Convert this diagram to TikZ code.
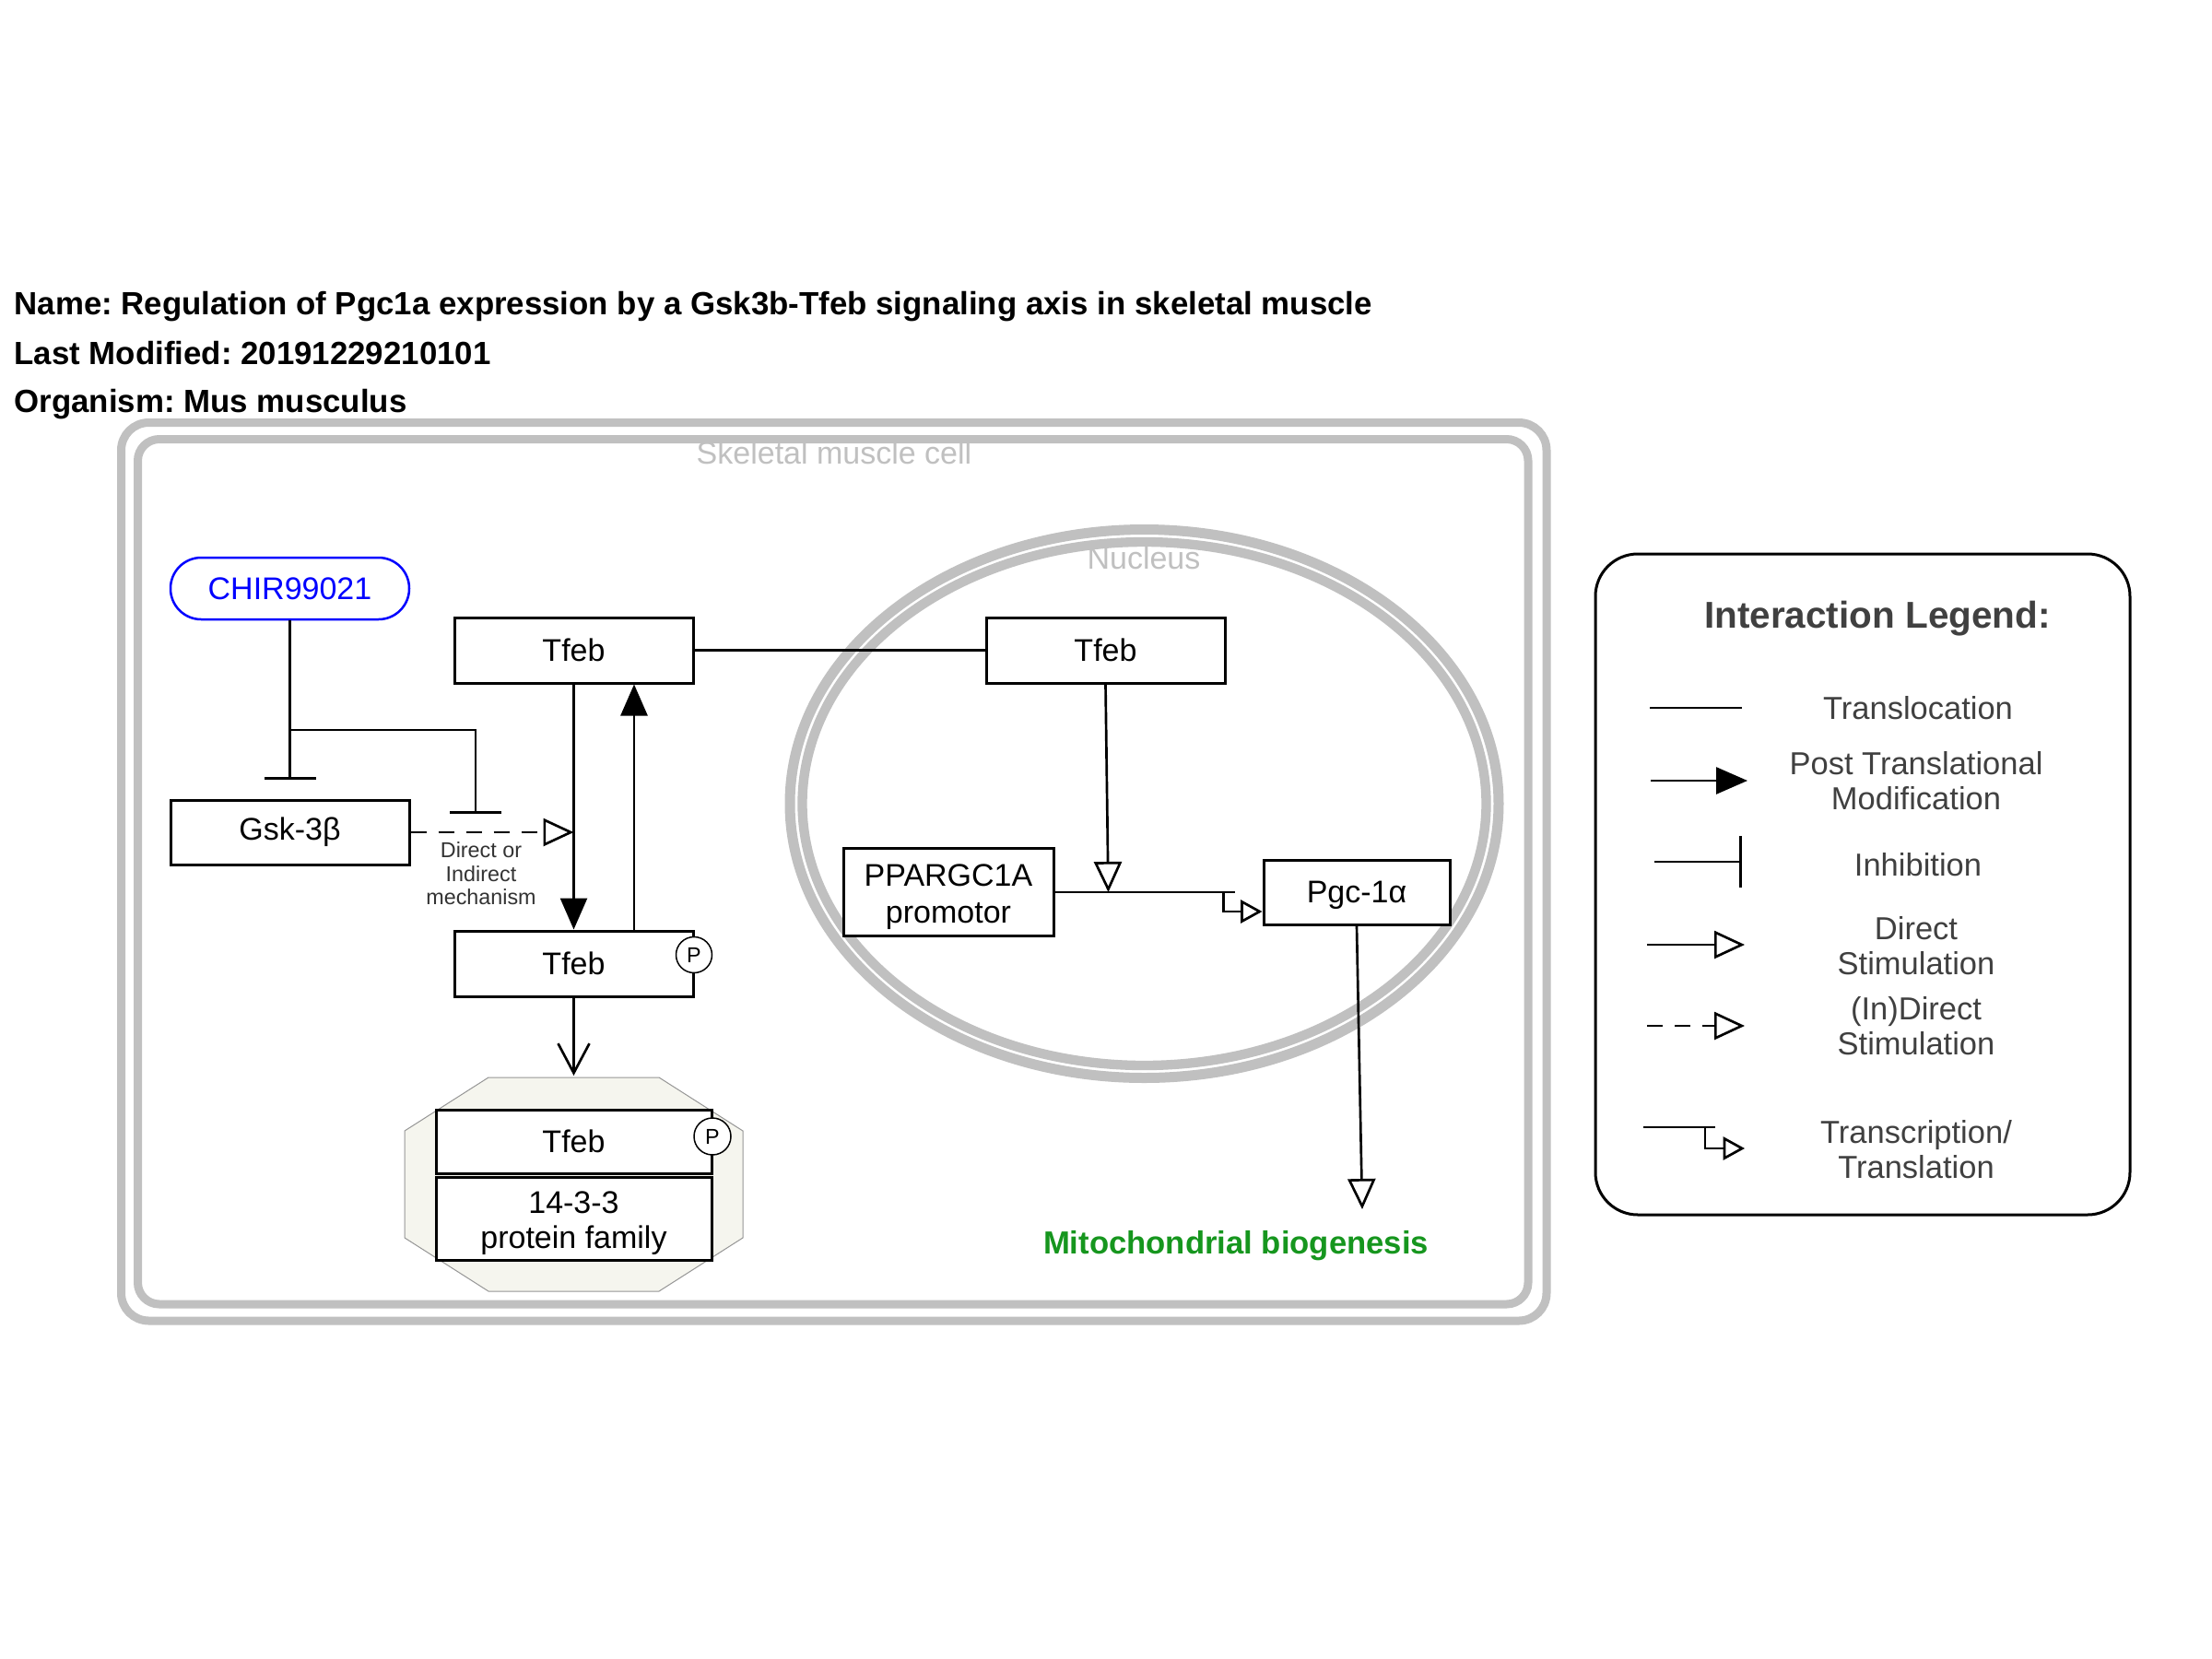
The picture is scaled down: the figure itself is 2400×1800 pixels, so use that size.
\documentclass[tikz,border=0pt]{standalone}
\usepackage{fontspec}
\setmainfont{Liberation Sans}
\usetikzlibrary{arrows.meta,calc}
\definecolor{cellgray}{RGB}{192,192,192}
\definecolor{chirblue}{RGB}{0,0,255}
\definecolor{mitogreen}{RGB}{22,150,30}
\definecolor{leggray}{RGB}{64,64,64}
\definecolor{mechgray}{RGB}{51,51,51}
\definecolor{cplxfill}{RGB}{245,245,238}
\definecolor{cplxborder}{RGB}{150,150,150}
\newcommand\fsz[2]{\fontsize{#1}{#2}\selectfont}
\frenchspacing
\begin{document}
\begin{tikzpicture}[x=0.3pt,y=-0.3pt,
  gene/.style={draw=black, line width=0.9pt, fill=white, minimum width=77.7pt, minimum height=21.3pt, inner sep=0pt, align=center, font=\fsz{10.2}{12}},
  genetext/.style={inner sep=0pt, align=center, font=\fsz{10.2}{12}},
  conn/.style={line width=0.8pt},
  ptm/.style={conn,-{Triangle[length=10.2pt,width=8.7pt]}},
  stim/.style={conn,-{Triangle[open,length=9.9pt,width=9pt]}},
  tstim/.style={conn,-{Triangle[open,length=7pt,width=7.5pt]}},
  inh/.style={conn,-{Bar[width=16.8pt]}},
  dsh/.style={dash pattern=on 5.1pt off 3.9pt},
  pcirc/.style={circle, draw=black, line width=0.45pt, fill=white, minimum size=11.7pt, inner sep=0pt, font=\fsz{7}{8}},
  legtext/.style={text=leggray, align=center, font=\fsz{10.35}{11.4}},
  title/.style={anchor=base west, inner sep=0pt, font=\bfseries\fsz{10.45}{12}},
]
\useasboundingbox (0,0) rectangle (2400,1800);
\fill[white] (0,0) rectangle (2400,1800);

% header
\node[title] (title1) at (15,341) {Name: Regulation of Pgc1a expression by a Gsk3b-Tfeb signaling axis in skeletal muscle};
\node[title] (title2) at (15,395) {Last Modified: 20191229210101};
\node[title] (title3) at (15,447) {Organism: Mus musculus};

% cell
\draw[cellgray, line width=2.7pt, rounded corners=9pt] (131.5,458.5) rectangle (1678,1433);
\draw[cellgray, line width=2.7pt, rounded corners=7pt] (149.5,476.5) rectangle (1658,1415);
\node[text=cellgray, font=\fsz{10.2}{12}] (celllabel) at (905,491) {Skeletal muscle cell};

% nucleus
\draw[cellgray, line width=3.3pt] (1241.5,872) ellipse [x radius=115.35pt, y radius=89.25pt];
\draw[cellgray, line width=3.1pt] (1241.5,872) ellipse [x radius=111.3pt, y radius=85.2pt];
\node[text=cellgray, font=\fsz{10.2}{12}] (nuclabel) at (1241,605) {Nucleus};

% complex
\draw[cplxborder, fill=cplxfill, line width=0.3pt] (530,1169) -- (715,1169) -- (806,1227) -- (806,1343) -- (715,1401) -- (530,1401) -- (439,1343) -- (439,1227) -- cycle;
\coordinate (cplxtop) at (622.5,1167);

% nodes
\node[gene, draw=chirblue, text=chirblue, rounded corners=10pt, line width=0.75pt, minimum height=20.1pt] (chir) at (314.5,638.5) {CHIR99021};
\node[gene] (tfeb1) at (622.5,705.5) {Tfeb};
\node[gene] (tfebN) at (1199.5,705.5) {Tfeb};
\node[gene, minimum height=21pt] (gsk) at (314.5,903) {Gsk-3β};
\node[gene] (tfebP) at (622.5,1045.5) {Tfeb};
\node[gene, minimum width=68.4pt, minimum height=28.5pt] (ppar) at (1029,968) {};
\node[genetext] (ppartext) at (1029,973) {PPARGC1A\\promotor};
\node[gene, minimum width=60.6pt, minimum height=21pt, text height=9.1pt, text depth=2.1pt] (pgc) at (1472,968) {Pgc-1α};
\node[gene, minimum width=89.7pt, minimum height=20.7pt] (ctfeb) at (622.5,1238.5) {Tfeb};
\node[gene, minimum width=89.7pt, minimum height=27pt] (c1433) at (622.5,1322) {};
\node[genetext, font=\fsz{10.2}{11.55}] (c1433text) at (622.5,1327) {14-3-3\\protein family};
\node[pcirc] (p1) at (753,1036) {P};
\node[pcirc, minimum size=12pt] (p2) at (773,1233) {P};

% connectors
\coordinate (inh1) at (314.5,846);
\draw[inh] (chir.south) -- (inh1);
\coordinate (br) at (314.5,792);
\coordinate (inh2) at (516,883);
\draw[inh] (br) -| (inh2);
\coordinate (anc1) at (622.5,903);
\draw[stim, dsh] (gsk.east) -- (anc1);
\node[text=mechgray, font=\fsz{7}{7.65}, align=center] (mech) at (522,948) {Direct or\\Indirect\\mechanism};
\draw[ptm] (tfeb1.south) -- (tfebP.north);
\draw[ptm] ($(tfebP.north)+(65.5,0)$) -- ($(tfeb1.south)+(65.5,0)$);
\draw[conn, -{Straight Barb[length=9.6pt,width=10.2pt]}] (tfebP.south) -- (cplxtop);
\draw[conn] (tfeb1.east) -- (tfebN.west);
\coordinate (anc2) at (1202.5,968);
\draw[stim] (tfebN.south) -- (anc2);
\draw[conn] (ppar.east) -- ++(195,0);
\draw[tstim] ($(ppar.east)+(183,0)$) |- ($(pgc.west)+(0,21)$);
\coordinate (mito) at (1478,1312);
\draw[stim] (pgc.south) -- (mito);
\node[text=mitogreen, font=\bfseries\fsz{10.4}{12}] (mitolabel) at (1341,1352) {Mitochondrial biogenesis};

% legend
\node[draw, line width=0.9pt, rounded corners=13.8pt, minimum width=174pt, minimum height=215.1pt, inner sep=0pt] (legend) at (2021,959.5) {};
\node[text=leggray, font=\bfseries\fsz{12.15}{14}] (legtitle) at (2037,671) {Interaction Legend:};
\coordinate (l1a) at (1790,768); \coordinate (l1b) at (1890,768);
\draw[conn] (l1a) -- (l1b);
\node[legtext] (l1t) at (2081,768) {Translocation};
\coordinate (l2a) at (1791,847); \coordinate (l2b) at (1896,847);
\draw[ptm] (l2a) -- (l2b);
\node[legtext] (l2t) at (2079,847) {Post Translational\\Modification};
\coordinate (l3a) at (1795,935); \coordinate (l3b) at (1890,935);
\draw[inh] (l3a) -- (l3b);
\node[legtext] (l3t) at (2081,938) {Inhibition};
\coordinate (l4a) at (1787,1025); \coordinate (l4b) at (1893,1025);
\draw[stim] (l4a) -- (l4b);
\node[legtext] (l4t) at (2079,1026) {Direct\\Stimulation};
\coordinate (l5a) at (1787,1113); \coordinate (l5b) at (1893,1113);
\draw[stim, dsh] (l5a) -- (l5b);
\node[legtext] (l5t) at (2079,1113.5) {(In)Direct\\Stimulation};
\coordinate (l6a) at (1783,1223); \coordinate (l6b) at (1861,1223);
\coordinate (l6c) at (1850,1223); \coordinate (l6d) at (1893,1246);
\draw[conn] (l6a) -- (l6b);
\draw[tstim] (l6c) |- (l6d);
\node[legtext] (l6t) at (2079,1247) {Transcription/\\Translation};
\end{tikzpicture}
\end{document}
